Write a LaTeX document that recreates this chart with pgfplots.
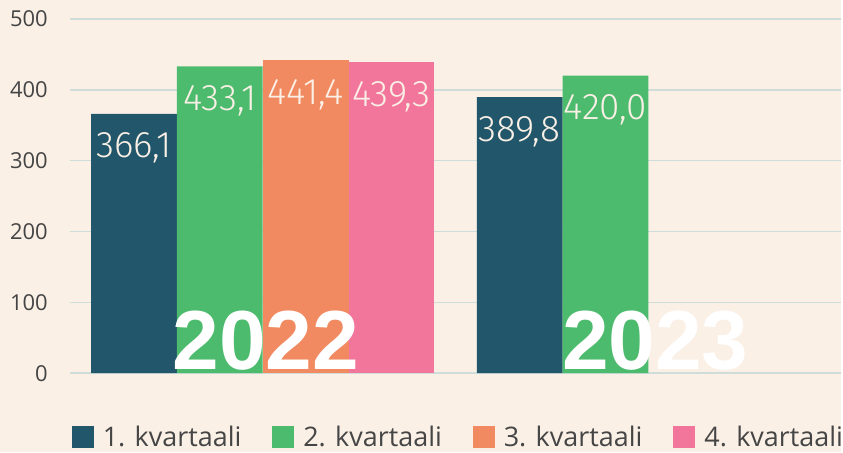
\documentclass[border=0pt]{standalone}
\usepackage{pgfplots}
\pgfplotsset{compat=1.18}
\usepackage{fontspec}
\setmainfont{Open Sans}
\newfontfamily\valfont{Fira Sans Light}
\newfontfamily\yearfont{Liberation Sans}
\definecolor{bg}{HTML}{FAF0E6}
\definecolor{gridc}{HTML}{CFDDDA}
\definecolor{tickc}{HTML}{444444}
\definecolor{legc}{HTML}{454545}
\definecolor{valc}{HTML}{FAF0E6}
\definecolor{qa}{HTML}{22566B}
\definecolor{qb}{HTML}{4DBB6D}
\definecolor{qc}{HTML}{F18A60}
\definecolor{qd}{HTML}{F2769C}
\begin{document}
\begin{tikzpicture}
\fill[bg] (-70pt,-79pt) rectangle (773pt,374pt);
\begin{axis}[
  at={(0pt,0pt)}, anchor=south west,
  scale only axis, width=773pt, height=355pt,
  xmin=-0.5, xmax=1.5, ymin=0, ymax=500,
  ybar=0pt, bar width=86pt,
  ytick={0,100,200,300,400,500},
  yticklabels={0,100,200,300,400,500},
  xtick=\empty,
  ymajorgrids, grid style={color=gridc, line width=1.5pt},
  axis line style={draw=none},
  major tick length=0pt,
  yticklabel style={font=\fontsize{22}{22}\selectfont, color=tickc, inner sep=0pt, xshift=-22pt, anchor=east},
  clip=false,
  nodes near coords={\pgfmathprintnumber[fixed,fixed zerofill,precision=1,use comma,assume math mode=true]{\pgfplotspointmeta}},
  nodes near coords style={font=\valfont\fontsize{37}{37}\selectfont, color=valc, anchor=north, yshift=-19pt, inner sep=0pt},
  legend columns=4,
  legend style={at={(axis description cs:0.0026,-0.149)}, anchor=north west, draw=none, fill=none, inner sep=0pt, outer sep=0pt,
    font=\fontsize{27}{27}\selectfont, text=legc, nodes={inner sep=0pt},
    /tikz/every even column/.append style={column sep=31pt},
    /tikz/every odd column/.append style={column sep=9pt}},
  legend image code/.code={\fill[#1] (0pt,-11pt) rectangle (22pt,11pt);},
]
\addplot[fill=qa, draw=none] coordinates {(0,366.1) (1,389.8)};
\addplot[fill=qb, draw=none] coordinates {(0,433.1) (1,420.0)};
\addplot[fill=qc, draw=none] coordinates {(0,441.4)};
\addplot[fill=qd, draw=none] coordinates {(0,439.3)};
\legend{1. kvartaali, 2. kvartaali, 3. kvartaali, 4. kvartaali}
\node[font=\yearfont\bfseries\fontsize{84}{84}\selectfont, text=white, anchor=base, inner sep=0pt, xshift=3pt, yshift=4pt] at (axis cs:0,0) {2022};
\node[font=\yearfont\bfseries\fontsize{84}{84}\selectfont, text=white, anchor=base, inner sep=0pt, xshift=7pt, yshift=4pt] at (axis cs:1,0) {2023};
\end{axis}
\end{tikzpicture}
\end{document}
